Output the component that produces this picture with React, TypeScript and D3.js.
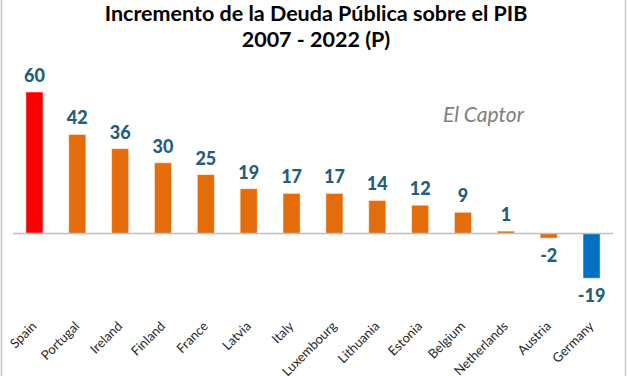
import React from "react";
import * as d3 from "d3";

const countries = ["Spain","Portugal","Ireland","Finland","France","Latvia","Italy","Luxembourg","Lithuania","Estonia","Belgium","Netherlands","Austria","Germany"];
const values = [60,42,36,30,25,19,17,17,14,12,9,1,-2,-19];
const titleLines = ["Incremento de la Deuda Pública sobre el PIB","2007 - 2022 (P)"];
const watermark = "El Captor";

const W = 627, H = 376;
const FONT = "Lato, 'Open Sans', sans-serif";

export default function App() {
  const x = d3.scaleBand<string>().domain(countries).range([13, 613]).paddingInner(0.6).paddingOuter(0.3);
  const y = d3.scaleLinear().domain([-30, 70]).range([304.2, 68.4]);
  const y0 = y(0);
  const color = (c: string, v: number) => c === "Spain" ? "#FF0000" : v < -10 ? "#0070C0" : "#E46C0A";
  return (
    <svg width={W} height={H} style={{ position: "fixed", left: 0, top: 0, background: "#fff" }} fontFamily={FONT}>
      <rect x={0} y={0} width={W} height={H} fill="#fff" />
      <line x1={1.5} x2={1.5} y1={0} y2={H} stroke="#c8c8c8" strokeWidth={1.5} />
      <line x1={625.5} x2={625.5} y1={0} y2={H} stroke="#c8c8c8" strokeWidth={1.5} />
      {titleLines.map((t, i) => (
        <text key={t} x={316} y={20.5 + i * 26.5} textAnchor="middle" fontSize={21.5} fontWeight="bold" fill="#000">{t}</text>
      ))}
      <text x={443} y={122} fontSize={21} fontStyle="italic" fill="#808080">{watermark}</text>
      {countries.map((c, i) => {
        const v = values[i];
        const bx = x(c)!;
        const top = Math.min(y(v), y0);
        const h = Math.abs(y(v) - y0);
        return (
          <g key={c}>
            <rect x={bx} y={top} width={x.bandwidth()} height={h} fill={color(c, v)} stroke="#ffffff" strokeOpacity={0.55} strokeWidth={1} />
          </g>
        );
      })}
      <line x1={13} x2={613} y1={y0} y2={y0} stroke="#bfbfbf" strokeWidth={1.5} />
      {countries.map((c, i) => {
        const v = values[i];
        const cx = x(c)! + x.bandwidth() / 2;
        const ly = v >= 0 ? y(v) - 10 : y(v) + 24;
        return (
          <text key={c + "v"} x={cx} y={ly} textAnchor="middle" fontSize={18} fontWeight="900" fill="#245E79">{v}</text>
        );
      })}
      {countries.map((c) => {
        const cx = x(c)! + x.bandwidth() / 2;
        return (
          <text key={c + "l"} transform={`translate(${cx + 3},${327}) rotate(-45)`} textAnchor="end" fontSize={13} fill="#262626">{c}</text>
        );
      })}
    </svg>
  );
}
